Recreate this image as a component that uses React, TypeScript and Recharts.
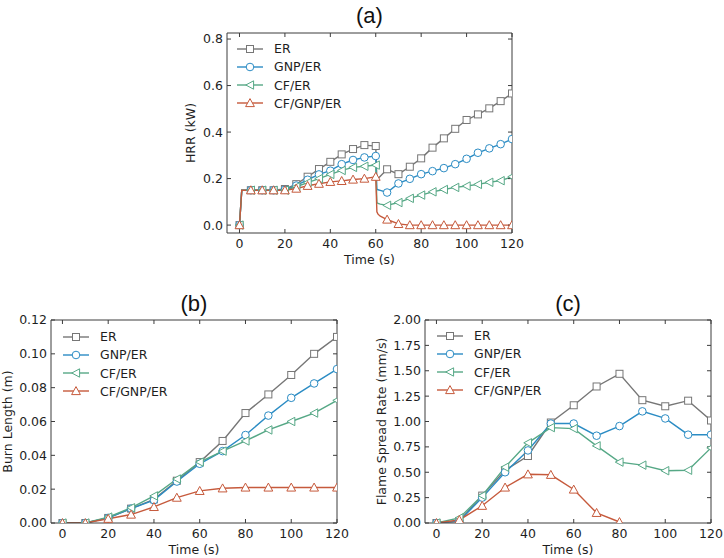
import { Legend, Line, LineChart, XAxis, YAxis } from "recharts";

const ER_C = "#767676";
const GNP_C = "#2b8cc4";
const CF_C = "#56a886";
const CFGNP_C = "#c65a3c";
const SPINE = "#3c3c3c";
const TEXT = "#1e1e1e";
const FONT = "'DejaVu Sans', sans-serif";

type Shape = "square" | "circle" | "left" | "up";

interface Series {
  key: "er" | "gnp" | "cf" | "cfgnp";
  name: string;
  color: string;
  shape: Shape;
}

const SERIES: Series[] = [
  { key: "er", name: "ER", color: ER_C, shape: "square" },
  { key: "gnp", name: "GNP/ER", color: GNP_C, shape: "circle" },
  { key: "cf", name: "CF/ER", color: CF_C, shape: "left" },
  { key: "cfgnp", name: "CF/GNP/ER", color: CFGNP_C, shape: "up" },
];

// (a) heat release rate, kW — markers every 5 s
const hrrTime = [0, 1, 5, 10, 15, 20, 25, 30, 35, 40, 45, 50, 55, 60, 60.5, 61, 62, 65, 70, 75, 80, 85, 90, 95, 100, 105, 110, 115, 120];
const hrrER = [0, 0.15, 0.15, 0.15, 0.15, 0.155, 0.176, 0.208, 0.241, 0.272, 0.304, 0.327, 0.344, 0.34, 0.195, 0.2, 0.21, 0.24, 0.219, 0.251, 0.287, 0.333, 0.373, 0.414, 0.452, 0.476, 0.502, 0.533, 0.566];
const hrrGNP = [0, 0.15, 0.15, 0.15, 0.15, 0.152, 0.17, 0.195, 0.218, 0.234, 0.262, 0.28, 0.291, 0.297, 0.155, 0.152, 0.149, 0.14, 0.179, 0.199, 0.219, 0.232, 0.245, 0.262, 0.285, 0.311, 0.33, 0.348, 0.37];
const hrrCF = [0, 0.15, 0.15, 0.15, 0.15, 0.15, 0.165, 0.183, 0.2, 0.218, 0.235, 0.248, 0.253, 0.258, 0.097, 0.093, 0.09, 0.085, 0.097, 0.115, 0.129, 0.143, 0.153, 0.162, 0.168, 0.175, 0.184, 0.191, 0.208];
const hrrCFGNP = [0, 0.15, 0.15, 0.15, 0.15, 0.15, 0.157, 0.169, 0.178, 0.186, 0.19, 0.196, 0.2, 0.208, 0.057, 0.047, 0.038, 0.024, 0.005, 0, 0, 0, 0, 0, 0, 0, 0, 0, 0];

// (b) burn length, m and (c) flame spread rate, mm/s
const time10 = [0, 10, 20, 30, 40, 50, 60, 70, 80, 90, 100, 110, 120];
const burnER = [0, 0, 0.003, 0.0085, 0.014, 0.025, 0.036, 0.0485, 0.065, 0.076, 0.0875, 0.1, 0.11];
const burnGNP = [0, 0, 0.003, 0.0085, 0.0135, 0.0245, 0.035, 0.0425, 0.052, 0.0635, 0.074, 0.0825, 0.091];
const burnCF = [0, 0, 0.0035, 0.009, 0.016, 0.026, 0.036, 0.0425, 0.0485, 0.055, 0.06, 0.065, 0.0725];
const burnCFGNP = [0, 0, 0.0025, 0.005, 0.0095, 0.015, 0.019, 0.0205, 0.021, 0.021, 0.021, 0.021, 0.021];

const fsrER = [0, 0.02, 0.27, 0.52, 0.66, 0.99, 1.16, 1.345, 1.47, 1.21, 1.15, 1.205, 1.01];
const fsrGNP = [0, 0.02, 0.25, 0.5, 0.715, 0.98, 0.98, 0.86, 0.955, 1.1, 1.03, 0.87, 0.87];
const fsrCF = [0, 0.05, 0.27, 0.55, 0.79, 0.94, 0.93, 0.76, 0.6, 0.57, 0.515, 0.52, 0.74];
const fsrCFGNP = [0, 0.03, 0.17, 0.35, 0.48, 0.475, 0.33, 0.1, 0.01, null, null, null, null];

const xTicks = [0, 20, 40, 60, 80, 100, 120];
const hrrTicks = [0, 0.2, 0.4, 0.6, 0.8];
const burnTicks = [0, 0.02, 0.04, 0.06, 0.08, 0.1, 0.12];
const fsrTicks = [0, 0.25, 0.5, 0.75, 1, 1.25, 1.5, 1.75, 2];

type Row = { t: number; er: number | null; gnp: number | null; cf: number | null; cfgnp: number | null };

function rows(t: number[], er: (number | null)[], gnp: (number | null)[], cf: (number | null)[], cfgnp: (number | null)[]): Row[] {
  return t.map((x, i) => ({ t: x, er: er[i], gnp: gnp[i], cf: cf[i], cfgnp: cfgnp[i] }));
}

function Marker({ shape, x, y, color }: { shape: Shape; x: number; y: number; color: string }) {
  const common = { fill: "#fff", stroke: color, strokeWidth: 1 };
  if (shape === "square") return <rect x={x - 3.5} y={y - 3.5} width={7} height={7} {...common} />;
  if (shape === "circle") return <circle cx={x} cy={y} r={3.8} {...common} />;
  if (shape === "left")
    return <polygon points={`${x - 4.2},${y} ${x + 3.6},${y - 4.2} ${x + 3.6},${y + 4.2}`} {...common} />;
  return <polygon points={`${x},${y - 4.4} ${x - 4.4},${y + 3.6} ${x + 4.4},${y + 3.6}`} {...common} />;
}

function markerDot(s: Series, every?: number) {
  return (props: any) => {
    const { cx, cy, payload, index, value } = props;
    const key = `${s.key}-${index}`;
    if (cx == null || cy == null || value == null) return <g key={key} />;
    if (every && payload.t % every !== 0) return <g key={key} />;
    return (
      <g key={key}>
        <Marker shape={s.shape} x={cx} y={cy} color={s.color} />
      </g>
    );
  };
}

function LegendBox() {
  return (
    <div style={{ fontFamily: FONT, fontSize: 12.5, color: TEXT, textAlign: "left" }}>
      {SERIES.map((s) => (
        <div key={s.key} style={{ display: "flex", alignItems: "center", height: 18.2 }}>
          <svg width={26} height={12} style={{ overflow: "visible" }}>
            <line x1={0} x2={26} y1={6} y2={6} stroke={s.color} strokeWidth={1.4} />
            <Marker shape={s.shape} x={13} y={6} color={s.color} />
          </svg>
          <span style={{ marginLeft: 11, whiteSpace: "nowrap" }}>{s.name}</span>
        </div>
      ))}
    </div>
  );
}

interface PanelProps {
  title: string;
  titleY: number;
  left: number;
  top: number;
  width: number;
  height: number;
  marginTop: number;
  marginRight: number;
  marginBottom: number;
  yWidth: number;
  data: Row[];
  xDomain: [number, number];
  yDomain: [number, number];
  yTicks: number[];
  yDigits: number;
  yLabel: string;
  yLabelOffset: number;
  legendLeft: number;
  legendTop: number;
  markEvery?: number;
}

function Panel(p: PanelProps) {
  const tick = { fill: TEXT, fontSize: 12.5, fontFamily: FONT };
  const plotCenter = (p.yWidth + p.width - p.marginRight - 1) / 2;
  return (
    <div style={{ position: "absolute", left: p.left, top: p.top, width: p.width, height: p.height }}>
      <div
        style={{
          position: "absolute",
          left: plotCenter - 40,
          width: 80,
          top: p.titleY - p.top - 13,
          height: 26,
          lineHeight: "26px",
          textAlign: "center",
          fontFamily: "'Liberation Sans', Arial, sans-serif",
          fontSize: 22,
          color: "#111",
        }}
      >
        {p.title}
      </div>
      <LineChart
        width={p.width}
        height={p.height}
        data={p.data}
        margin={{ top: p.marginTop, right: p.marginRight, bottom: p.marginBottom, left: 0 }}
      >
        <XAxis
          xAxisId="b"
          dataKey="t"
          type="number"
          domain={p.xDomain}
          ticks={xTicks}
          interval={0}
          allowDataOverflow
          stroke={SPINE}
          tickSize={-4}
          tickMargin={10}
          height={34}
          tick={tick}
          label={{ value: "Time (s)", position: "insideBottom", offset: 3, fill: TEXT, fontSize: 12.5, fontFamily: FONT }}
        />
        <XAxis
          xAxisId="t"
          orientation="top"
          dataKey="t"
          type="number"
          domain={p.xDomain}
          ticks={xTicks}
          interval={0}
          allowDataOverflow
          stroke={SPINE}
          tickSize={-4}
          height={1}
          tickFormatter={() => ""}
        />
        <YAxis
          yAxisId="l"
          type="number"
          domain={p.yDomain}
          ticks={p.yTicks}
          interval={0}
          allowDataOverflow
          stroke={SPINE}
          tickSize={-4}
          tickMargin={8}
          width={p.yWidth}
          tick={tick}
          tickFormatter={(v: number) => v.toFixed(p.yDigits)}
          label={{
            value: p.yLabel,
            angle: -90,
            position: "insideLeft",
            offset: p.yLabelOffset,
            fill: TEXT,
            fontSize: 12.5,
            fontFamily: FONT,
            style: { textAnchor: "middle" },
          }}
        />
        <YAxis
          yAxisId="r"
          orientation="right"
          type="number"
          domain={p.yDomain}
          ticks={p.yTicks}
          interval={0}
          allowDataOverflow
          stroke={SPINE}
          tickSize={-4}
          width={1}
          tickFormatter={() => ""}
        />
        <Legend
          layout="vertical"
          align="center"
          verticalAlign="middle"
          content={() => <LegendBox />}
          wrapperStyle={{ left: p.legendLeft, top: p.legendTop, width: "auto", height: "auto" }}
        />
        {SERIES.map((s) => (
          <Line
            key={s.key}
            xAxisId="b"
            yAxisId="l"
            type="linear"
            dataKey={s.key}
            name={s.name}
            stroke={s.color}
            strokeWidth={1.4}
            dot={markerDot(s, p.markEvery)}
            activeDot={false}
            isAnimationActive={false}
          />
        ))}
      </LineChart>
    </div>
  );
}

export default function App() {
  return (
    <div style={{ position: "absolute", left: 0, top: 0, width: 724, height: 558, background: "#fff", fontFamily: FONT }}>
      <Panel
        title="(a)"
        titleY={16}
        left={170}
        top={25}
        width={360}
        height={242}
        marginTop={7}
        marginRight={17}
        marginBottom={0}
        yWidth={57}
        data={rows(hrrTime, hrrER, hrrGNP, hrrCF, hrrCFGNP)}
        xDomain={[-5.5, 120]}
        yDomain={[-0.034, 0.826]}
        yTicks={hrrTicks}
        yDigits={1}
        yLabel="HRR (kW)"
        yLabelOffset={21}
        legendLeft={67}
        legendTop={14.7}
        markEvery={5}
      />
      <Panel
        title="(b)"
        titleY={303.5}
        left={0}
        top={282}
        width={350}
        height={276}
        marginTop={37}
        marginRight={12}
        marginBottom={1}
        yWidth={51}
        data={rows(time10, burnER, burnGNP, burnCF, burnCFGNP)}
        xDomain={[-5, 120]}
        yDomain={[0, 0.12]}
        yTicks={burnTicks}
        yDigits={2}
        yLabel="Burn Length (m)"
        yLabelOffset={8}
        legendLeft={63}
        legendTop={45.7}
      />
      <Panel
        title="(c)"
        titleY={303.5}
        left={362}
        top={282}
        width={362}
        height={276}
        marginTop={37}
        marginRight={12}
        marginBottom={1}
        yWidth={63}
        data={rows(time10, fsrER, fsrGNP, fsrCF, fsrCFGNP)}
        xDomain={[-5, 120]}
        yDomain={[0, 2]}
        yTicks={fsrTicks}
        yDigits={2}
        yLabel="Flame Spread Rate (mm/s)"
        yLabelOffset={20}
        legendLeft={75}
        legendTop={44.7}
      />
    </div>
  );
}
